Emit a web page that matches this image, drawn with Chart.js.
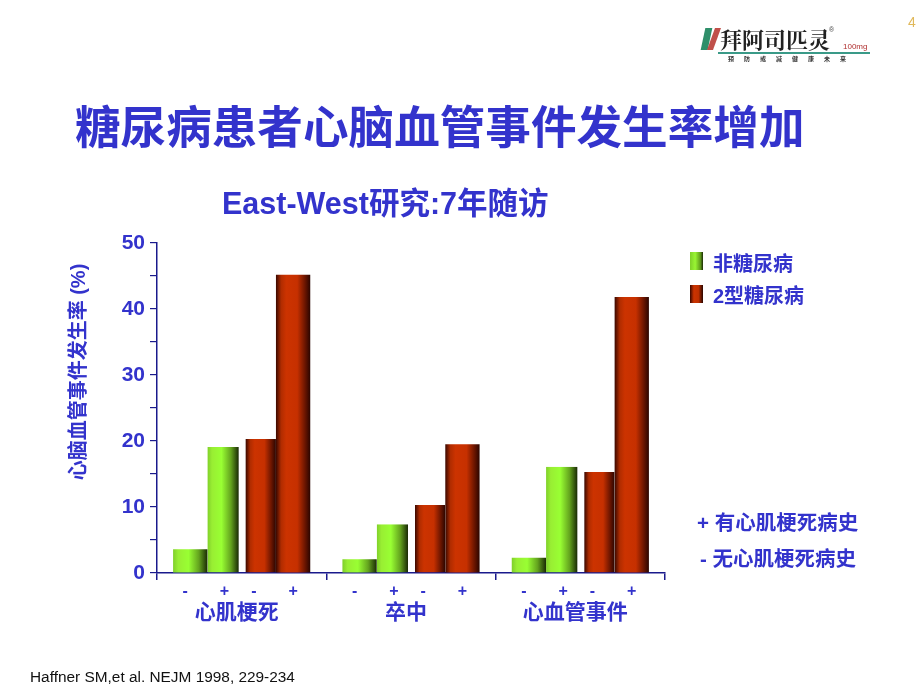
<!DOCTYPE html>
<html>
<head>
<meta charset="utf-8">
<script src="https://cdn.jsdelivr.net/npm/chart.js@4"></script>
<style>
  html, body { margin: 0; padding: 0; background: #fff; }
  body { width: 920px; height: 690px; position: relative; overflow: hidden;
         font-family: "Liberation Sans", "Noto Sans CJK SC", sans-serif; }
  #chartBox { position: absolute; left: 0; top: 0; width: 920px; height: 690px; }
  .txt { position: absolute; white-space: nowrap; line-height: 1; color: #3333cc; font-weight: bold; }
  .swatch { position: absolute; width: 13px; height: 18px; }
</style>
</head>
<body>
<div id="chartBox"><canvas id="incidenceChart" width="920" height="690"></canvas></div>

<!-- header / logo -->
<div class="txt" style="left:908px;top:15px;font-size:14px;font-weight:normal;color:#e0b85a;">4</div>
<div style="position:absolute;left:703px;top:28px;width:7px;height:22px;background:#2f8f6a;transform:skewX(-12deg);"></div>
<div style="position:absolute;left:711px;top:28px;width:6px;height:22px;background:#c0504a;transform:skewX(-20deg);"></div>
<div class="txt" style="left:720px;top:28px;font-size:22px;color:#222;font-family:'Noto Serif CJK SC','Noto Sans CJK SC',serif;">拜阿司匹灵</div>
<div class="txt" style="left:829px;top:26px;font-size:7px;color:#444;font-weight:normal;">®</div>
<div class="txt" style="left:843px;top:43px;font-size:8px;color:#b03030;font-weight:normal;">100mg</div>
<div style="position:absolute;left:718px;top:52px;width:152px;height:2px;background:#3a9a88;"></div>
<div class="txt" style="left:728px;top:56px;font-size:6px;color:#333;letter-spacing:10px;">预防或减健康未来</div>

<!-- titles -->
<div class="txt" style="left:75px;top:106px;font-size:45.6px;">糖尿病患者心脑血管事件发生率增加</div>
<div class="txt" style="left:222px;top:188px;font-size:30.5px;">East-West研究:7年随访</div>

<!-- y axis title -->
<div class="txt" style="left:-42px;top:362px;width:240px;text-align:center;font-size:20px;transform:rotate(-90deg);">心脑血管事件发生率 (%)</div>

<!-- legend -->
<div class="swatch" style="left:690px;top:252px;background:linear-gradient(90deg,#7fcf2a,#99f533 40%,#5f9a1c 80%,#1a2a05);"></div>
<div class="txt" style="left:713px;top:254px;font-size:20px;">非糖尿病</div>
<div class="swatch" style="left:690px;top:285px;background:linear-gradient(90deg,#3a0800,#cc3300 30%,#c03000 65%,#2a0500);"></div>
<div class="txt" style="left:713px;top:286px;font-size:20px;">2型糖尿病</div>

<!-- notes -->
<div class="txt" style="left:697px;top:513px;font-size:20.5px;">+ 有心肌梗死病史</div>
<div class="txt" style="left:700px;top:549px;font-size:20.5px;">- 无心肌梗死病史</div>

<!-- source -->
<div class="txt" style="left:30px;top:669px;font-size:15.4px;font-weight:normal;color:#111;">Haffner SM,et al. NEJM 1998, 229-234</div>

<script>
// data (percent, 7-year follow-up)
const groups = ['心肌梗死', '卒中', '心血管事件'];
const nonDiabNoMI = [3.6, 2.1, 2.3];
const nonDiabMI = [19.1, 7.4, 16.1];
const diabNoMI = [20.3, 10.3, 15.3];
const diabMI = [45.2, 19.5, 41.8];
const signLabels = ['-', '+', '-', '+'];
const yMax = 50;
const yStep = 5;

const blue = '#3333cc';
const navy = '#1a1a8c';
const fontFamily = '"Liberation Sans", "Noto Sans CJK SC", sans-serif';

const greenStops = [[0, '#7fcf2a'], [0.15, '#99ee33'], [0.45, '#99ff33'], [0.75, '#64a41e'], [1, '#1a2a05']];
const redStops = [[0, '#3a0800'], [0.15, '#b02c00'], [0.3, '#cc3300'], [0.62, '#c63000'], [0.85, '#6a1500'], [1, '#2a0500']];

// paint each bar with a horizontal "cylinder" gradient
// (backgroundColor is scriptable below so every bar owns its options object)
const barShade = {
    id: 'barShade',
    beforeDatasetsDraw: function(chart) {
        const ctx = chart.ctx;
        chart.data.datasets.forEach(function(ds, i) {
            const stops = ds.shade === 'green' ? greenStops : redStops;
            const bw = ds.borderWidth || {};
            chart.getDatasetMeta(i).data.forEach(function(bar) {
                const x0 = bar.x - bar.width / 2 + (bw.left || 0);
                const x1 = bar.x + bar.width / 2 - (bw.right || 0);
                const grad = ctx.createLinearGradient(x0, 0, x1, 0);
                stops.forEach(function(s) { grad.addColorStop(s[0], s[1]); });
                bar.options.backgroundColor = grad;
            });
        });
    }
};

// the small - / + marks under every bar
const signMarks = {
    id: 'signMarks',
    afterDraw: function(chart) {
        const ctx = chart.ctx;
        ctx.save();
        ctx.fillStyle = blue;
        ctx.font = 'bold 16px ' + fontFamily;
        ctx.textAlign = 'center';
        ctx.textBaseline = 'middle';
        chart.data.datasets.forEach(function(ds, i) {
            const shift = signLabels[i] === '-' ? -5 : 0;
            chart.getDatasetMeta(i).data.forEach(function(bar) {
                ctx.fillText(signLabels[i], bar.x + shift, chart.chartArea.bottom + 19);
            });
        });
        ctx.restore();
    }
};

const gap = 'rgba(0,0,0,0)';
const greenFill = function() { return '#99ee33'; };
const redFill = function() { return '#cc3300'; };

new Chart(document.getElementById('incidenceChart'), {
    type: 'bar',
    data: {
        labels: groups,
        datasets: [
            { label: '非糖尿病 -', data: nonDiabNoMI, shade: 'green', backgroundColor: greenFill },
            { label: '非糖尿病 +', data: nonDiabMI, shade: 'green', backgroundColor: greenFill,
              borderWidth: { right: 3 }, borderColor: gap },
            { label: '2型糖尿病 -', data: diabNoMI, shade: 'red', backgroundColor: redFill,
              borderWidth: { left: 4 }, borderColor: gap },
            { label: '2型糖尿病 +', data: diabMI, shade: 'red', backgroundColor: redFill }
        ]
    },
    options: {
        responsive: false,
        animation: false,
        layout: { padding: { top: 243, right: 255, left: 0, bottom: 0 } },
        datasets: { bar: { barPercentage: 1, categoryPercentage: 0.81, borderSkipped: false } },
        plugins: {
            legend: { display: false },
            tooltip: { enabled: false }
        },
        scales: {
            x: {
                offset: true,
                afterFit: function(scale) { scale.height = 117; },
                grid: { offset: true, drawOnChartArea: false, tickLength: 7, color: navy, lineWidth: 1.5 },
                border: { color: navy, width: 1.5 },
                ticks: {
                    color: blue,
                    padding: 21,
                    labelOffset: -5,
                    font: { family: fontFamily, size: 21, weight: 'bold' }
                }
            },
            y: {
                min: 0,
                max: yMax,
                afterFit: function(scale) { scale.width = 157; },
                grid: { drawOnChartArea: false, tickLength: 7, color: navy, lineWidth: 1.2 },
                border: { color: navy, width: 1.5 },
                ticks: {
                    stepSize: yStep,
                    color: blue,
                    padding: 5,
                    font: { family: fontFamily, size: 21, weight: 'bold' },
                    callback: function(v) { return v % 10 === 0 ? v : ''; }
                }
            }
        }
    },
    plugins: [barShade, signMarks]
});
</script>
</body>
</html>
